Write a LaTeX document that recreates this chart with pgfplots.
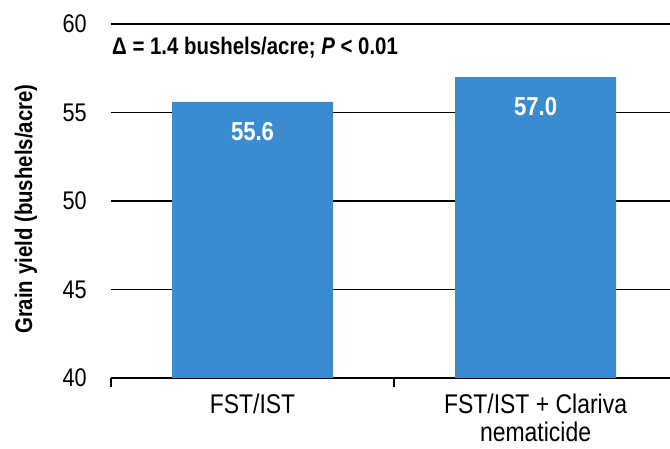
\documentclass[border=0pt]{standalone}
\usepackage{fontspec}
\setmainfont{Liberation Sans}[FakeStretch=0.85]
\usepackage{pgfplots}
\pgfplotsset{compat=1.18}
\definecolor{barblue}{RGB}{59,139,208}
\begin{document}
\begin{tikzpicture}
\useasboundingbox (0,0) rectangle (670pt,449pt);
\begin{axis}[
  at={(111pt,71pt)}, anchor=south west,
  scale only axis, width=559pt, height=354pt,
  xmin=-0.5, xmax=1.475, ymin=40, ymax=60,
  axis x line*=bottom, axis y line*=left,
  y axis line style={draw=none},
  x axis line style={line width=1.6pt},
  /pgf/number format/assume math mode=true,
  ytick={40,45,50,55,60},
  ymajorgrids, grid style={black, line width=1.4pt},
  xtick={0,1},
  xticklabels={FST/IST, {FST/IST + Clariva\\nematicide}},
  minor xtick={-0.5,0.5,1.5},
  major tick length=0pt, minor tick length=9pt,
  tick align=outside,
  minor tick style={black, line width=1.4pt},
  yticklabel style={font=\fontsize{25.5}{30}\selectfont, anchor=east, inner sep=0pt, xshift=-24pt},
  xticklabel style={font=\fontsize{27}{28}\selectfont, align=center, anchor=north, inner sep=0pt, yshift=-16pt},
  ylabel={Grain yield (bushels/acre)},
  ylabel style={font=\bfseries\fontsize{24}{28}\selectfont, at={(axis description cs:-0.152,0.477)}, anchor=center},
]
\addplot[ybar, bar width=161pt, fill=barblue, draw=none,
  point meta=explicit symbolic,
  nodes near coords,
  nodes near coords style={white, font=\bfseries\fontsize{26}{30}\selectfont, anchor=north, inner sep=0pt, yshift=-20pt}]
  coordinates {(0,55.6) [55.6] (1,57.0) [57.0]};
\node[anchor=base west, inner sep=0pt, xshift=1pt, font=\bfseries\fontsize{24}{28}\selectfont] at (axis cs:-0.5,58.25) {Δ = 1.4 bushels/acre; \textit{P} < 0.01};
\end{axis}
\end{tikzpicture}
\end{document}
